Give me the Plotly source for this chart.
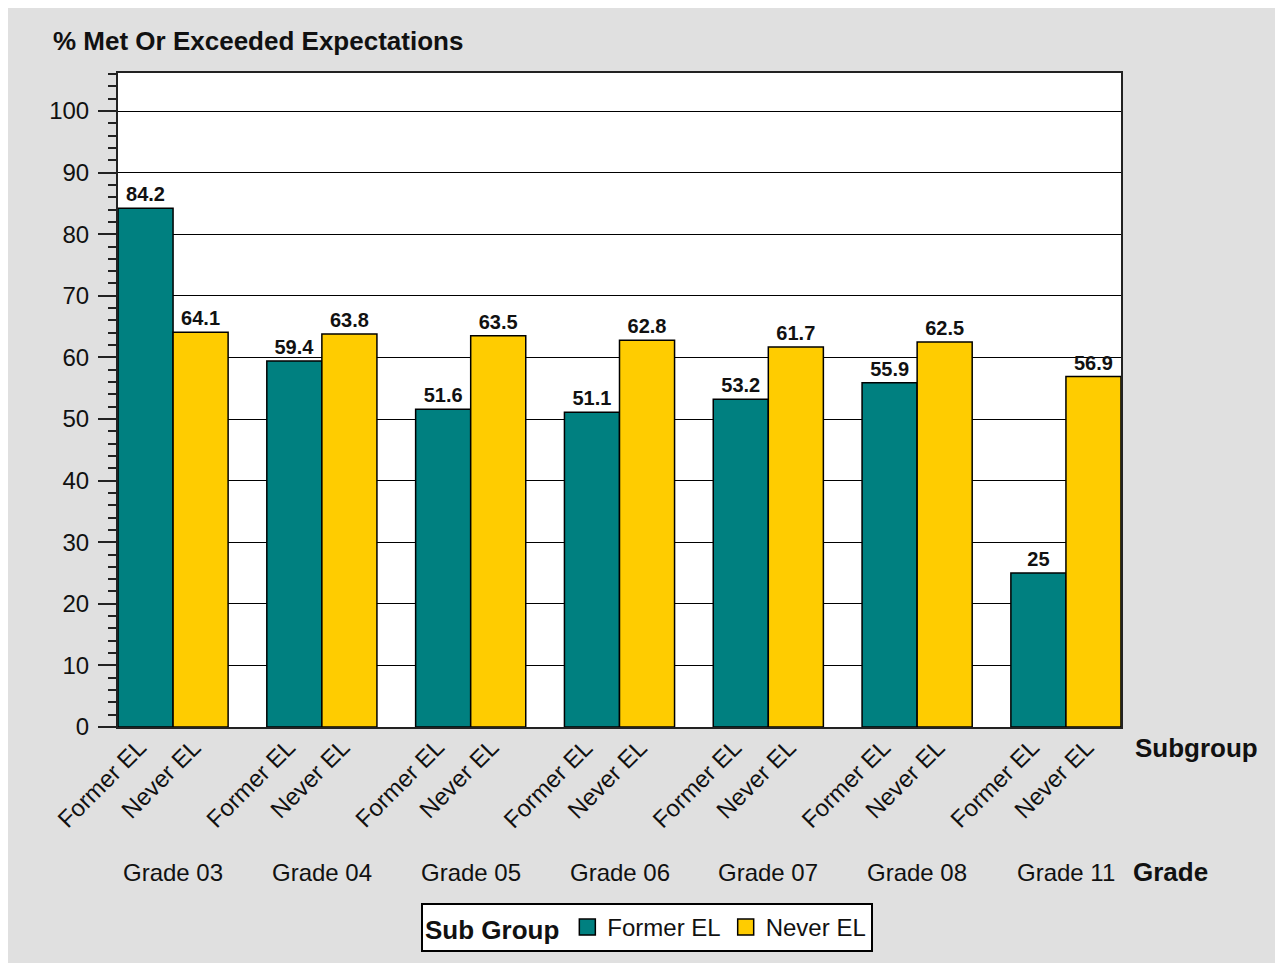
import plotly.graph_objects as go

grades = ["Grade 03", "Grade 04", "Grade 05", "Grade 06", "Grade 07", "Grade 08", "Grade 11"]
subgroups = ["Former EL", "Never EL"]
former_el = [84.2, 59.4, 51.6, 51.1, 53.2, 55.9, 25]
never_el = [64.1, 63.8, 63.5, 62.8, 61.7, 62.5, 56.9]
colors = ["#008080", "#FFCC00"]
y_ticks = [0, 10, 20, 30, 40, 50, 60, 70, 80, 90, 100]

# page body has an 8px margin; figure coordinates below are page coords minus 8
W, H = 1275, 955
L, R, T, B = 110, 1113, 65, 719
Y100 = 103
FONT = "Liberation Sans, Arial, sans-serif"
TXT = "#111111"

fig = go.Figure()
for name, vals, col in zip(subgroups, [former_el, never_el], colors):
    fig.add_trace(go.Bar(
        x=grades, y=vals, name=name, showlegend=False,
        marker=dict(color=col, line=dict(color="#000000", width=1.5)),
        text=[f"{v:g}" for v in vals], textposition="outside",
        textfont=dict(family=FONT, size=20, color=TXT, weight="bold"),
        cliponaxis=False,
    ))
# legend entries with larger square swatches
for name, col in zip(subgroups, colors):
    fig.add_trace(go.Scatter(
        x=[None], y=[None], name=name, mode="markers",
        marker=dict(symbol="square", size=16, color=col, line=dict(color="#000000", width=1.5)),
    ))

bargap = 0.26
half = (1 - bargap) / 2
annotations = []
for i, g in enumerate(grades):
    for j, s in enumerate(subgroups):
        xc = i - half / 2 + j * half
        annotations.append(dict(
            x=xc + 0.055, xref="x", y=0, yref="paper", yshift=-4,
            text=s, showarrow=False, textangle=-45,
            xanchor="right", yanchor="top",
            font=dict(family=FONT, size=24, color=TXT),
        ))
    annotations.append(dict(
        x=i, xref="x", y=0, yref="paper", yshift=-(864 - B),
        text=g, showarrow=False, xanchor="center", yanchor="middle",
        font=dict(family=FONT, size=24, color=TXT),
    ))

annotations.append(dict(x=1, xref="paper", xshift=12, y=0, yref="paper", yshift=-(740 - B),
                        text="<b>Subgroup</b>", showarrow=False, xanchor="left", yanchor="middle",
                        font=dict(family=FONT, size=26, color=TXT)))
annotations.append(dict(x=1, xref="paper", xshift=10, y=0, yref="paper", yshift=-(864 - B),
                        text="<b>Grade</b>", showarrow=False, xanchor="left", yanchor="middle",
                        font=dict(family=FONT, size=26, color=TXT)))

fig.update_layout(
    width=W, height=H,
    margin=dict(l=L, r=W - R, t=T, b=H - B, autoexpand=False),
    paper_bgcolor="#e0e0e0",
    plot_bgcolor="#ffffff",
    barmode="group", bargap=bargap, bargroupgap=0,
    title=dict(text="<b>% Met Or Exceeded Expectations</b>", x=45 / W, xanchor="left",
               y=1 - 33 / H, yanchor="middle",
               font=dict(family=FONT, size=26, color=TXT)),
    showlegend=True,
    legend=dict(orientation="h", xref="container", x=639 / W, xanchor="center",
                yref="container", y=1 - 895 / H, yanchor="top",
                bgcolor="#ffffff", bordercolor="#000000", borderwidth=2,
                title=dict(text="<b>Sub Group</b>", font=dict(family=FONT, size=26, color=TXT)),
                font=dict(family=FONT, size=24, color=TXT),
                traceorder="normal", itemwidth=30),
    annotations=annotations,
)

fig.update_xaxes(
    range=[-half, len(grades) - 1 + half],
    showticklabels=False, ticks="", showgrid=False,
    showline=True, linecolor="#222222", linewidth=2, mirror=True,
)
fig.update_yaxes(
    range=[0, (B - T) / ((B - Y100) / 100)],
    tickvals=y_ticks, ticks="outside", ticklen=18, tickwidth=1.5, tickcolor="#222222",
    tickfont=dict(family=FONT, size=24, color=TXT), ticklabelstandoff=4,
    showgrid=True, gridcolor="#000000", gridwidth=1,
    showline=True, linecolor="#222222", linewidth=2, mirror=True,
    minor=dict(ticks="outside", ticklen=8, dtick=2, tickwidth=1.5, tickcolor="#222222", showgrid=False),
    zeroline=False,
)

fig.write_html("out.html")
